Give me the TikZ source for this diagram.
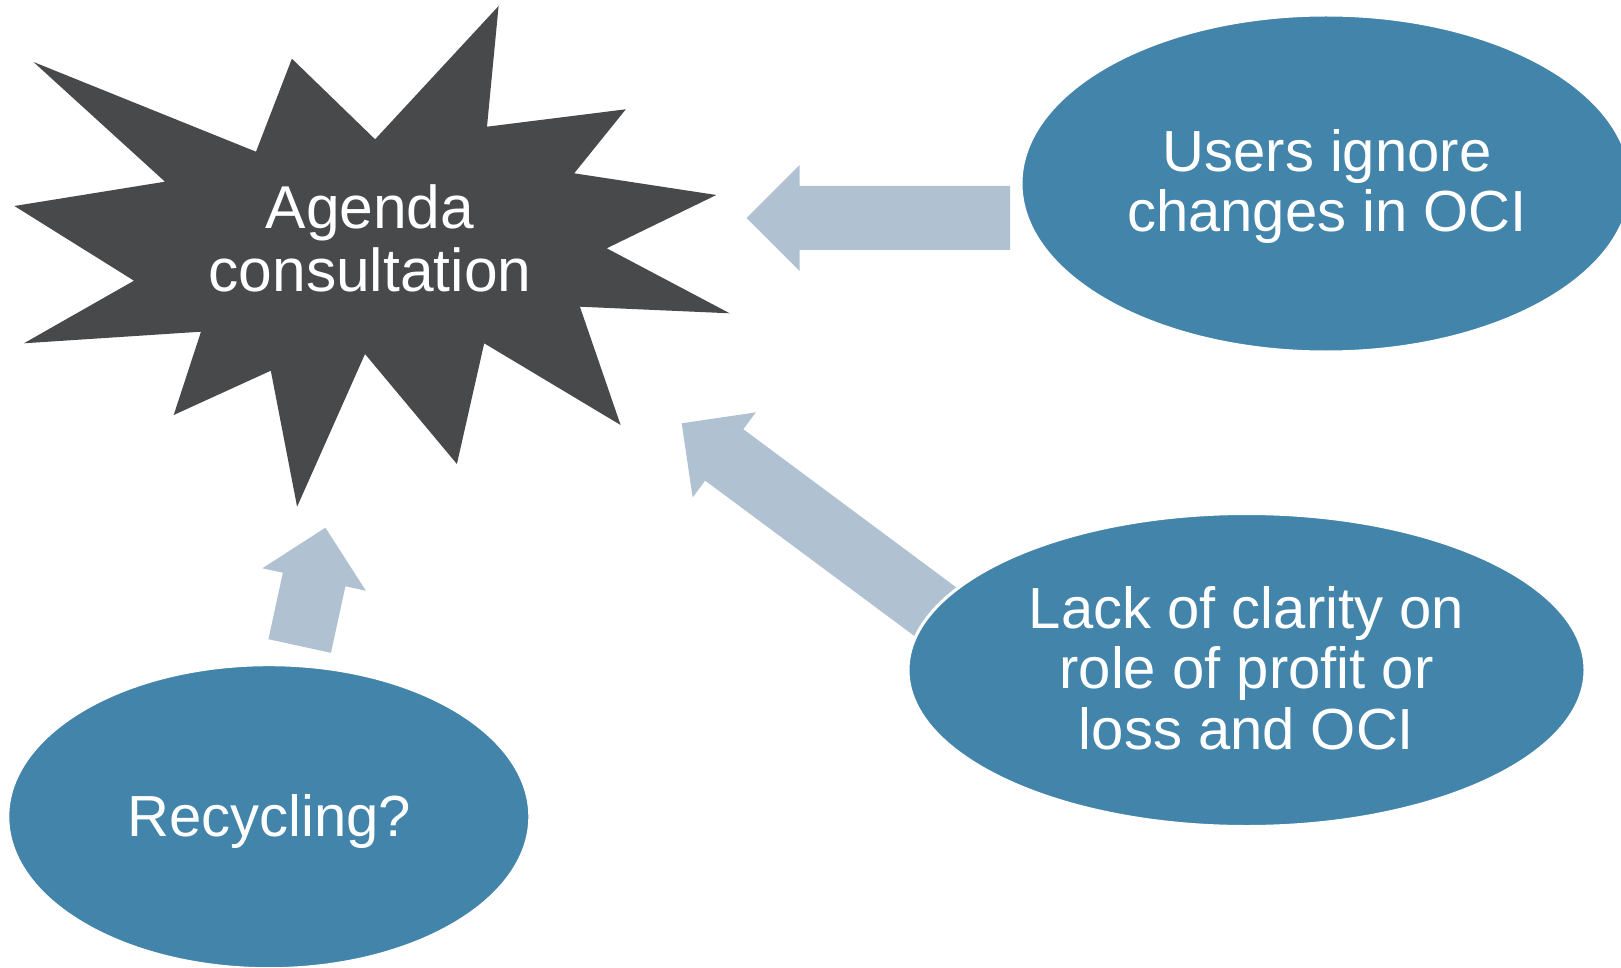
\documentclass[tikz,border=0pt]{standalone}
\usepackage{fontspec}
\setmainfont{Liberation Sans}
\usetikzlibrary{calc,shapes.geometric}
\definecolor{ellblue}{HTML}{4284AA}
\definecolor{stargray}{HTML}{48494B}
\definecolor{arrowblue}{HTML}{B0C2D2}
\tikzset{
  ellip/.style={ellipse, fill=ellblue, draw=white, line width=3pt, inner sep=0pt},
  lbl/.style={text=white, align=center, inner sep=0pt, anchor=base, font=\fontsize{58}{60.5}\selectfont},
  bigarrow/.style={fill=arrowblue},
  starshape/.style={fill=stargray},
}
% #1 name, #2 tail coordinate, #3 tip coordinate
\newcommand\blockarrow[3]{%
  \coordinate (#1h) at ($(#3)!53pt!(#2)$);
  \fill[bigarrow] ($(#2)!32pt!90:(#3)$) -- ($(#1h)!32pt!90:(#3)$) -- ($(#1h)!53pt!90:(#3)$) -- (#3)
    -- ($(#1h)!53pt!-90:(#3)$) -- ($(#1h)!32pt!-90:(#3)$) -- ($(#2)!32pt!-90:(#3)$) -- cycle;}
\begin{document}
\begin{tikzpicture}[x=1pt,y=-1pt]
\useasboundingbox (0,0) rectangle (1621,968);
\fill[white] (0,0) rectangle (1621,968);
\clip (0,0) rectangle (1621,968);

% starburst
\fill[starshape] (498.6,6) -- (487,126.7) -- (625.8,109.3) -- (574.2,173.3) -- (716.3,195)
  -- (606.7,248.3) -- (729.7,313.3) -- (579.9,306.7) -- (620.6,425) -- (484.2,343.3)
  -- (456.9,464) -- (365,354) -- (297.1,506.7) -- (270.8,370.7) -- (173.7,415)
  -- (201,331.7) -- (23.9,343.3) -- (134,280.7) -- (14.4,206) -- (165,181.7)
  -- (33.5,62) -- (256,151.7) -- (291.9,58.7) -- (375.1,139.3) -- cycle;
\node[lbl, font=\fontsize{60.5}{63.5}\selectfont] (agenda) at (370,291.7) {Agenda\\consultation};

% arrow end points
\coordinate (tA) at (1010,218);   \coordinate (pA) at (746.7,218);
\coordinate (tB) at (957.4,628.1); \coordinate (pB) at (681.7,423.3);
\coordinate (tC) at (299.7,646);  \coordinate (pC) at (325.4,527.7);
\blockarrow{A}{tA}{pA}
\blockarrow{B}{tB}{pB}
\blockarrow{C}{tC}{pC}

% ellipses
\node[ellip, minimum width=610pt, minimum height=337pt] (users) at (1326,183.5) {};
\node[ellip, minimum width=677pt, minimum height=313pt] (lack) at (1246.5,670) {};
\node[ellip, minimum width=522pt, minimum height=304pt] (recyc) at (268.8,816.7) {};

\node[lbl] (usersT) at (1327,231.7) {Users ignore\\changes in OCI};
\node[lbl] (lackT) at (1246.5,749) {Lack of clarity on\\role of profit or\\loss and OCI};
\node[lbl] (recycT) at (269,836.7) {Recycling?};
\end{tikzpicture}
\end{document}
